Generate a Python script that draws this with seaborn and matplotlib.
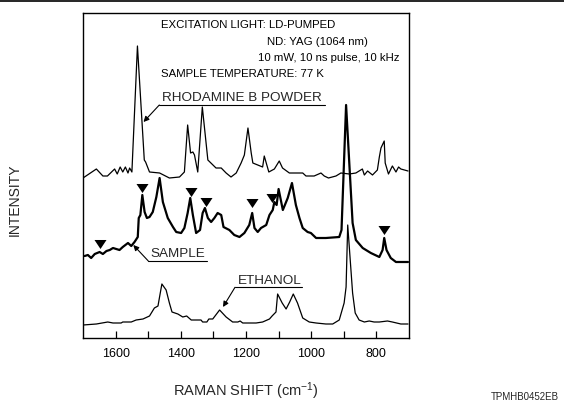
import numpy as np
import pandas as pd
import matplotlib
matplotlib.use("Agg")
import matplotlib.pyplot as plt
import seaborn as sns
from matplotlib.lines import Line2D
from matplotlib.path import Path
from matplotlib.markers import MarkerStyle
from matplotlib.ticker import FixedLocator

# ---------------- data ----------------
rhod_shift = [1700, 1659, 1639, 1625, 1603, 1595, 1586, 1578, 1570, 1562, 1557, 1550, 1533, 1512,
              1508, 1496, 1465, 1435, 1404, 1389, 1379, 1370, 1363, 1358, 1348, 1334, 1317, 1292,
              1276, 1261, 1246, 1230, 1215, 1205, 1194, 1184, 1179, 1164, 1149, 1144, 1130, 1113,
              1098, 1088, 1067, 1047, 1026, 1016, 991, 970, 960, 947, 924, 909, 883, 863, 843,
              837, 827, 812, 797, 791, 786, 776, 773, 763, 751, 740, 732, 725, 703]
rhod_int = [160, 169, 162, 162, 169, 164, 171, 166, 171, 165, 170, 166, 292, 178,
            176, 166, 165, 160, 161, 166, 213, 185, 186, 183, 166, 231, 178, 170,
            170, 165, 161, 165, 175, 183, 210, 185, 175, 173, 171, 182, 166, 169,
            177, 170, 165, 165, 165, 162, 162, 165, 162, 160, 162, 165, 164, 165, 169,
            163, 167, 163, 168, 181, 190, 197, 175, 164, 172, 166, 171, 169, 167]

sample_shift = [1695, 1685, 1675, 1664, 1649, 1639, 1628, 1618, 1608, 1588, 1578, 1562, 1552, 1542,
                1532, 1529, 1524, 1518, 1511, 1504, 1496, 1486, 1475, 1465, 1455, 1440, 1424, 1414,
                1399, 1389, 1379, 1371, 1363, 1353, 1341, 1333, 1326, 1317, 1307, 1297, 1287, 1276,
                1269, 1251, 1236, 1220, 1205, 1190, 1181, 1174, 1164, 1154, 1138, 1128, 1118, 1113,
                1106, 1100, 1087, 1072, 1059, 1047, 1036, 1026, 1011, 1001, 985, 955, 914, 907,
                893, 873, 863, 842, 817, 791, 781, 776, 769, 756, 740, 703]
sample_int = [82, 83, 80, 84, 86, 84, 87, 88, 90, 88, 91, 95, 92, 96,
              101, 120, 123, 143, 126, 120, 121, 126, 141, 160, 136, 120, 111, 106,
              105, 110, 125, 140, 123, 105, 108, 125, 130, 120, 116, 120, 125, 123,
              111, 108, 103, 101, 105, 113, 125, 110, 106, 110, 113, 123, 128, 136,
              133, 149, 128, 140, 155, 133, 120, 110, 106, 105, 100, 100, 101, 108,
              233, 115, 98, 90, 85, 81, 88, 100, 88, 80, 76, 76]

eth_shift = [1700, 1659, 1624, 1608, 1583, 1578, 1552, 1537, 1516, 1496, 1481, 1470, 1463, 1458,
             1445, 1435, 1427, 1409, 1394, 1382, 1368, 1338, 1333, 1320, 1314, 1302, 1281, 1261,
             1241, 1225, 1218, 1210, 1169, 1149, 1128, 1120, 1108, 1103, 1089, 1077, 1066, 1055,
             1042, 1026, 1006, 985, 955, 934, 914, 899, 893, 888, 873, 865, 853, 837, 822, 807,
             791, 766, 751, 725, 703]
eth_int = [13, 14, 16, 15, 15, 16, 16, 18, 19, 22, 30, 32, 45, 54,
           48, 35, 26, 24, 21, 22, 18, 18, 16, 16, 19, 19, 28, 21,
           16, 16, 17, 15, 15, 16, 19, 22, 26, 44, 35, 29, 36, 44,
           35, 20, 16, 15, 14, 14, 18, 35, 51, 113, 45, 25, 18, 16, 17, 16,
           16, 17, 16, 14, 14]

mark_shift = [1649, 1518, 1368, 1324, 1181, 1120, 776]
mark_int = [94, 150, 146, 136, 135, 140, 108]

tick_values = [1600, 1400, 1200, 1000, 800]
tick_labels = ["1600", "1400", "1200", "1000", "800"]
minor_values = [1500, 1300, 1100, 900]

header_lines = ["EXCITATION LIGHT: LD-PUMPED", "ND: YAG (1064 nm)",
                "10 mW, 10 ns pulse, 10 kHz", "SAMPLE TEMPERATURE: 77 K"]

# ---------------- style ----------------
sns.set_theme(style="white")
plt.rcParams["font.family"] = ["Liberation Sans", "DejaVu Sans"]
plt.rcParams["mathtext.fontset"] = "custom"
plt.rcParams["mathtext.rm"] = "Liberation Sans"
plt.rcParams["mathtext.it"] = "Liberation Sans:italic"
plt.rcParams["mathtext.bf"] = "Liberation Sans:bold"

W, H = 564, 401
fig = plt.figure(figsize=(W / 100, H / 100), dpi=100)
fig.patch.set_facecolor("white")


def fx(px):
    return px / W


def fy(py):
    return 1 - py / H


ax = fig.add_axes([fx(83), fy(338), (409 - 83) / W, (338 - 13) / H])
ax.set_facecolor("white")

rhod = pd.DataFrame({"shift": rhod_shift, "intensity": rhod_int})
samp = pd.DataFrame({"shift": sample_shift, "intensity": sample_int})
eth = pd.DataFrame({"shift": eth_shift, "intensity": eth_int})
marks = pd.DataFrame({"shift": mark_shift, "intensity": mark_int})

sns.lineplot(data=rhod, x="shift", y="intensity", ax=ax, color="black", lw=0.9,
             estimator=None, sort=False)
sns.lineplot(data=eth, x="shift", y="intensity", ax=ax, color="black", lw=0.9,
             estimator=None, sort=False)
sns.lineplot(data=samp, x="shift", y="intensity", ax=ax, color="black", lw=1.6,
             estimator=None, sort=False)

tri = MarkerStyle(Path([(-1, 0.75), (1, 0.75), (0, -0.75), (-1, 0.75)], closed=True))
sns.scatterplot(data=marks, x="shift", y="intensity", ax=ax, marker=tri, s=75,
                color="black", linewidth=0, zorder=5)

ax.set_xlim(1700, 700)
ax.set_ylim(0, 325)
ax.set_xlabel("")
ax.set_ylabel("")
ax.set_yticks([])
ax.xaxis.set_major_locator(FixedLocator(tick_values))
ax.set_xticklabels(tick_labels)
ax.xaxis.set_minor_locator(FixedLocator(minor_values))
ax.tick_params(axis="x", which="both", direction="in", length=5, width=0.9,
               bottom=True, top=False, color="black")
ax.tick_params(axis="x", which="major", pad=7, labelsize=9, labelcolor="black")
for sp in ax.spines.values():
    sp.set_visible(True)
    sp.set_color("black")
    sp.set_linewidth(1.0)

# ---------------- texts ----------------
hdr_pos = [(161, 25), (266.7, 41.7), (258.3, 58.3), (161, 74)]
for (px, py), txt in zip(hdr_pos, header_lines):
    fig.text(fx(px), fy(py), txt, fontsize=8.2, ha="left", va="center", color="black")

lab_fs = 9.7
fig.text(fx(161.7), fy(97.7), "RHODAMINE B POWDER", fontsize=lab_fs, ha="left", va="center")
fig.text(fx(150.7), fy(254.3), "SAMPLE", fontsize=lab_fs, ha="left", va="center")
fig.text(fx(238.3), fy(280.7), "ETHANOL", fontsize=lab_fs, ha="left", va="center")


def leader(x0, x1, yl, tip):
    fig.add_artist(Line2D([fx(x0), fx(x1)], [fy(yl), fy(yl)], transform=fig.transFigure,
                          color="black", lw=0.8))
    ax.annotate("", xy=(fx(tip[0]), fy(tip[1])), xycoords="figure fraction",
                xytext=(fx(x0), fy(yl)), textcoords="figure fraction",
                arrowprops=dict(arrowstyle="-|>", color="black", lw=0.8,
                                mutation_scale=8, shrinkA=0, shrinkB=0))


leader(159.3, 325, 105, (143.5, 122))
leader(148.3, 206.7, 261, (133.3, 245))
leader(235, 302, 287.3, (223, 307))

fig.text(fx(15), fy(200), "INTENSITY", rotation=90, fontsize=10, ha="center", va="center")
fig.text(fx(246), fy(391), r"RAMAN SHIFT (cm$^{\mathregular{-1}}$)", fontsize=10.5,
         ha="center", va="center")
fig.text(fx(490.7), fy(396.5), "TPMHB0452EB", fontsize=7, ha="left", va="center")

fig.add_artist(Line2D([0, 1], [fy(1), fy(1)], transform=fig.transFigure, color="black", lw=1.2))

fig.savefig("out.png", dpi=100, facecolor="white")
